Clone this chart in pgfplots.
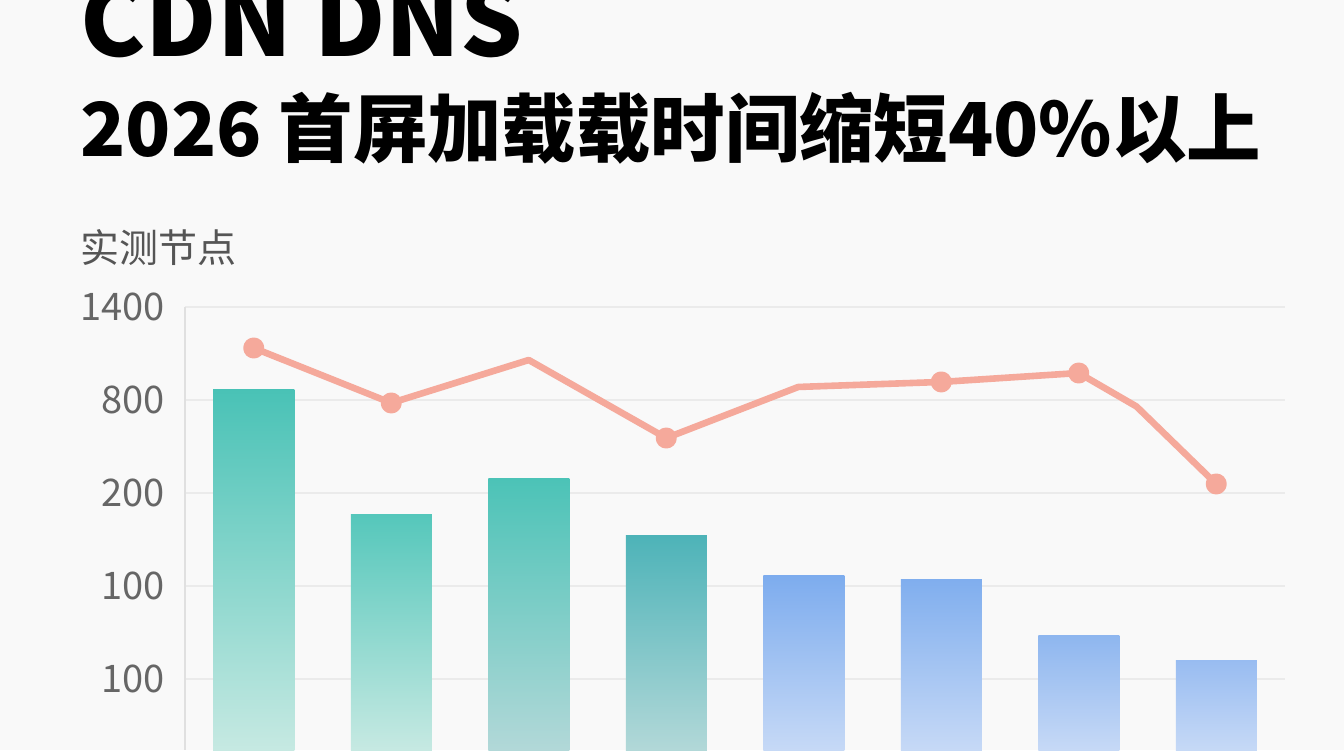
\documentclass[border=0pt]{standalone}
\usepackage{pgfplots}
\pgfplotsset{compat=1.18}
\usepackage{fontspec}
\setmainfont{Noto Sans CJK SC}

\definecolor{bg}{HTML}{F9F9F9}
\definecolor{tickgray}{HTML}{666666}
\definecolor{labelgray}{HTML}{555555}
\definecolor{linecol}{HTML}{F5A99B}
\definecolor{tealA}{HTML}{49C2B6}
\definecolor{tealB}{HTML}{55C7BB}
\definecolor{tealC}{HTML}{4CC3B7}
\definecolor{tealD}{HTML}{4DB3B8}
\definecolor{tealbot}{HTML}{C6E9E2}
\definecolor{tealgraybot}{HTML}{B2D8D8}
\definecolor{blueA}{HTML}{7DACEE}
\definecolor{blueB}{HTML}{80AEEE}
\definecolor{blueC}{HTML}{8EB6EF}
\definecolor{blueD}{HTML}{98BCF1}
\definecolor{bluebot}{HTML}{C6D9F6}

\begin{document}
\begin{tikzpicture}
\useasboundingbox[fill=bg] (0,0) rectangle (672pt,375pt);
\clip (0,0) rectangle (672pt,375pt);

% titles (the first line runs off the top edge, as in the original)
\node[anchor=base west, inner sep=0pt, font=\fontsize{49}{49}\selectfont\bfseries] at (40pt,346.5pt) {CDN DNS};
\node[anchor=base west, inner sep=0pt, font=\fontsize{37.2}{37.2}\selectfont\bfseries] at (40pt,296.5pt) {2026 首屏加载载时间缩短40\%以上};
\node[anchor=west, inner sep=0pt, text=labelgray, font=\fontsize{19.5}{19.5}\selectfont] at (40pt,251pt) {实测节点};

\begin{axis}[
    at={(92.5pt,0pt)}, anchor=south west,
    scale only axis,
    width=550pt, height=221.5pt,
    xmin=-0.5, xmax=7.5,
    ymin=0.2366, ymax=5,
    axis x line=none,
    axis y line=left,
    axis line style={-, draw=black!12, line width=0.6pt},
    ytick={1,2,3,4,5},
    yticklabels={100,100,200,800,1400},
    ymajorgrids,
    grid style={draw=black!8, line width=0.6pt},
    major tick length=0pt,
    yticklabel style={font=\fontsize{19}{19}\selectfont, text=tickgray, xshift=-6.5pt},
    /pgf/number format/assume math mode=true,
]
% bars (heights in gridline units)
\addplot[ybar, bar width=40.5pt, bar shift=0pt, draw=none, top color=tealA, bottom color=tealbot] coordinates {(0,4.118)};
\addplot[ybar, bar width=40.5pt, bar shift=0pt, draw=none, top color=tealB, bottom color=tealbot] coordinates {(1,2.774)};
\addplot[ybar, bar width=40.5pt, bar shift=0pt, draw=none, top color=tealC, bottom color=tealgraybot] coordinates {(2,3.151)};
\addplot[ybar, bar width=40.5pt, bar shift=0pt, draw=none, top color=tealD, bottom color=tealgraybot] coordinates {(3,2.548)};
\addplot[ybar, bar width=40.5pt, bar shift=0pt, draw=none, top color=blueA, bottom color=bluebot] coordinates {(4,2.118)};
\addplot[ybar, bar width=40.5pt, bar shift=0pt, draw=none, top color=blueB, bottom color=bluebot] coordinates {(5,2.075)};
\addplot[ybar, bar width=40.5pt, bar shift=0pt, draw=none, top color=blueC, bottom color=bluebot] coordinates {(6,1.473)};
\addplot[ybar, bar width=40.5pt, bar shift=0pt, draw=none, top color=blueD, bottom color=bluebot] coordinates {(7,1.204)};

% line
\addplot[color=linecol, line width=3.3pt, line join=round, line cap=round,
    mark=*, mark size=3.6pt, mark options={fill=linecol, draw=none},
    mark indices={1,2,4,6,7,9}]
coordinates {(0,4.559) (1,3.968) (2,4.430) (3,3.591) (3.96,4.140) (5,4.194) (6,4.290) (6.42,3.93) (7,3.097)};
\end{axis}
\end{tikzpicture}
\end{document}
